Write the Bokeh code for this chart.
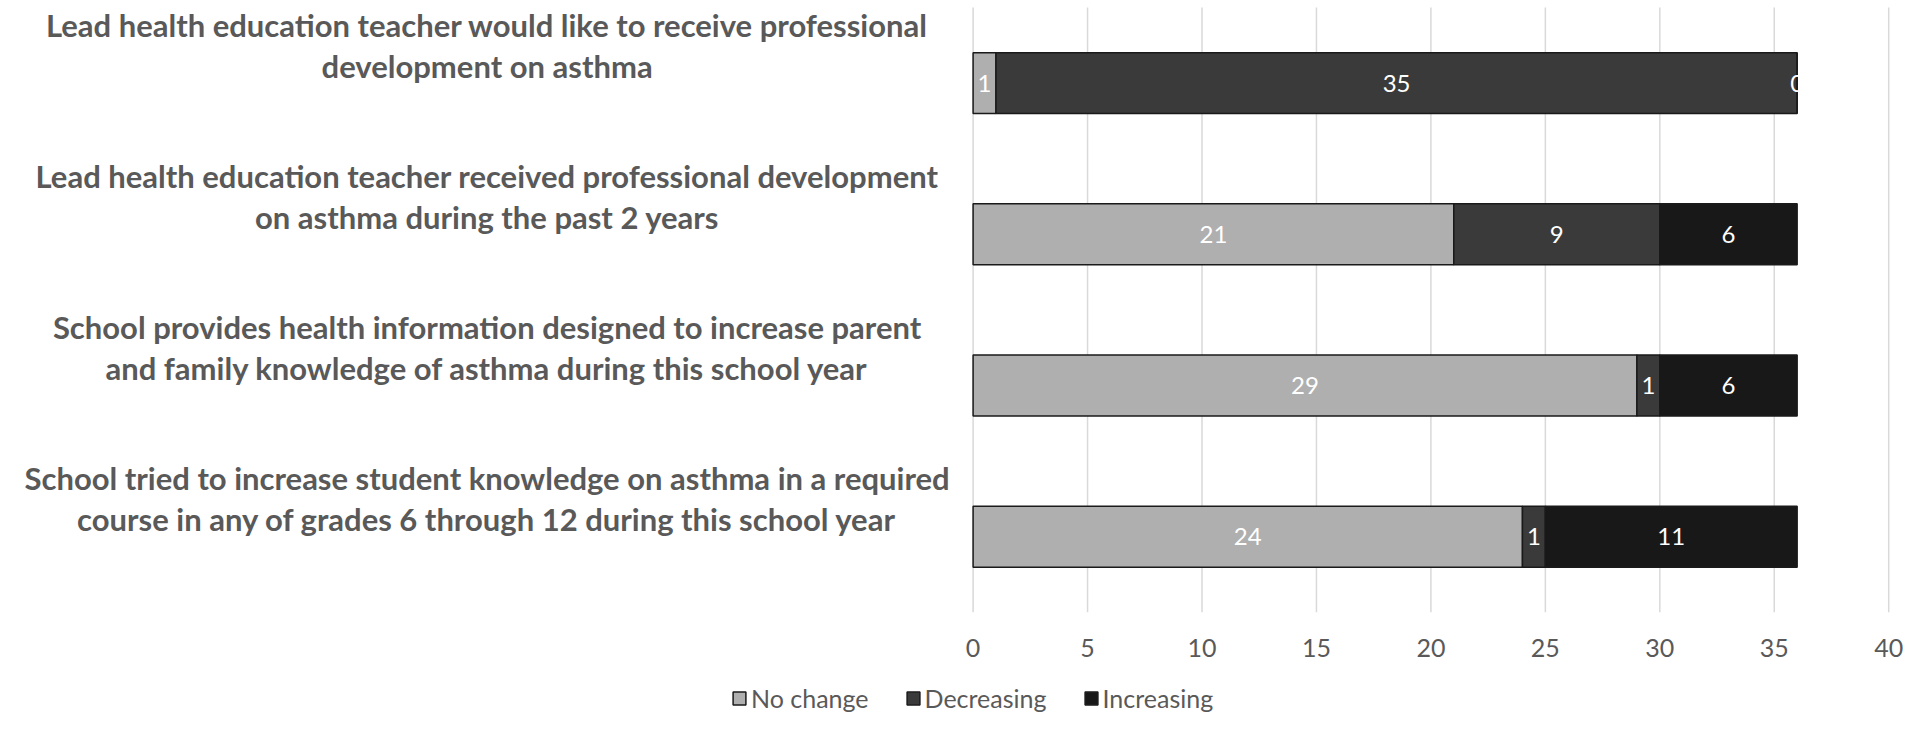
from bokeh.plotting import figure
from bokeh.models import ColumnDataSource, Range1d, Legend, LegendItem
from bokeh.core.properties import value
from bokeh.embed import file_html
from bokeh.resources import INLINE

# ---- data (top to bottom) ----
label_line1 = [
    "Lead health education teacher would like to receive professional",
    "Lead health education teacher received professional development",
    "School provides health information designed to increase parent",
    "School tried to increase student knowledge on asthma in a required",
]
label_line2 = [
    "development on asthma",
    "on asthma during the past 2 years",
    "and family knowledge of asthma during this school year",
    "course in any of grades 6 through 12 during this school year",
]
no_change = [1, 21, 29, 24]
decreasing = [35, 9, 1, 1]
increasing = [0, 6, 6, 11]
series_names = ["No change", "Decreasing", "Increasing"]
series_colors = ["#afafaf", "#3a3a3a", "#181818"]
x_ticks = [0, 5, 10, 15, 20, 25, 30, 35, 40]

# ---- layout / style constants ----
FONT = "Lato"
GRAY = "#595959"
W, H = 1904, 713
PX_PER_Y = 151.2          # pixels per category band
TOP_PAD = 7               # pixels above the first band

n = len(no_change)
ypos = [n - 1 - i for i in range(n)]
band_top = n - 0.5
band_bottom = -0.5
y_top = band_top + TOP_PAD / PX_PER_Y
y_bottom = y_top - H / PX_PER_Y

source = ColumnDataSource(dict(
    y=ypos, no_change=no_change, decreasing=decreasing, increasing=increasing,
))

p = figure(width=W, height=H, output_backend="svg", toolbar_location=None,
           x_range=Range1d(-42.49, 40.69), y_range=Range1d(y_bottom, y_top),
           x_axis_location=None, y_axis_location=None, min_border=0)
p.outline_line_color = None
p.background_fill_color = "white"
p.border_fill_color = "white"
p.xgrid.grid_line_color = None
p.ygrid.grid_line_color = None

# vertical gridlines at the value ticks, spanning the category bands
p.segment(x0=x_ticks, x1=x_ticks, y0=[band_bottom] * len(x_ticks),
          y1=[band_top] * len(x_ticks), line_color="#d9d9d9", line_width=1.5)

renderers = p.hbar_stack(["no_change", "decreasing", "increasing"], y="y", height=0.403,
                         color=series_colors, source=source,
                         line_color="#1a1a1a", line_width=1.5)

# data labels
series_vals = [no_change, decreasing, increasing]
lx, ly, lt = [], [], []
for i in range(n):
    left = 0
    for s in series_vals:
        v = s[i]
        lx.append(left + v / 2)
        ly.append(ypos[i])
        lt.append(str(v))
        left += v
p.text(x=lx, y=ly, text=lt, text_align="center", text_baseline="middle",
       text_color="white", text_font=value(FONT), text_font_size="24px")

# category labels (two lines, centered, above bar centre)
p.text(x=[0] * n, y=[y + 0.386 for y in ypos], text=label_line1, x_offset=-486,
       text_align="center", text_baseline="middle", text_color=GRAY,
       text_font=value(FONT), text_font_style="bold", text_font_size="31px")
p.text(x=[0] * n, y=[y + 0.116 for y in ypos], text=label_line2, x_offset=-486,
       text_align="center", text_baseline="middle", text_color=GRAY,
       text_font=value(FONT), text_font_style="bold", text_font_size="31px")

# value-axis tick labels
tick_y = band_bottom - 36 / PX_PER_Y
p.text(x=x_ticks, y=[tick_y] * len(x_ticks), text=[str(t) for t in x_ticks],
       text_align="center", text_baseline="middle", text_color=GRAY,
       text_font=value(FONT), text_font_size="25px")

legend = Legend(items=[LegendItem(label=nm, renderers=[r]) for nm, r in zip(series_names, renderers)],
                orientation="horizontal", location=(731, 0),
                label_text_font=FONT, label_text_font_size="25px", label_text_color=GRAY,
                glyph_width=16, glyph_height=16, label_standoff=4, spacing=36,
                padding=0, margin=0, border_line_color=None, background_fill_alpha=0)
p.add_layout(legend)

open("out.html", "w").write(file_html(p, INLINE))
